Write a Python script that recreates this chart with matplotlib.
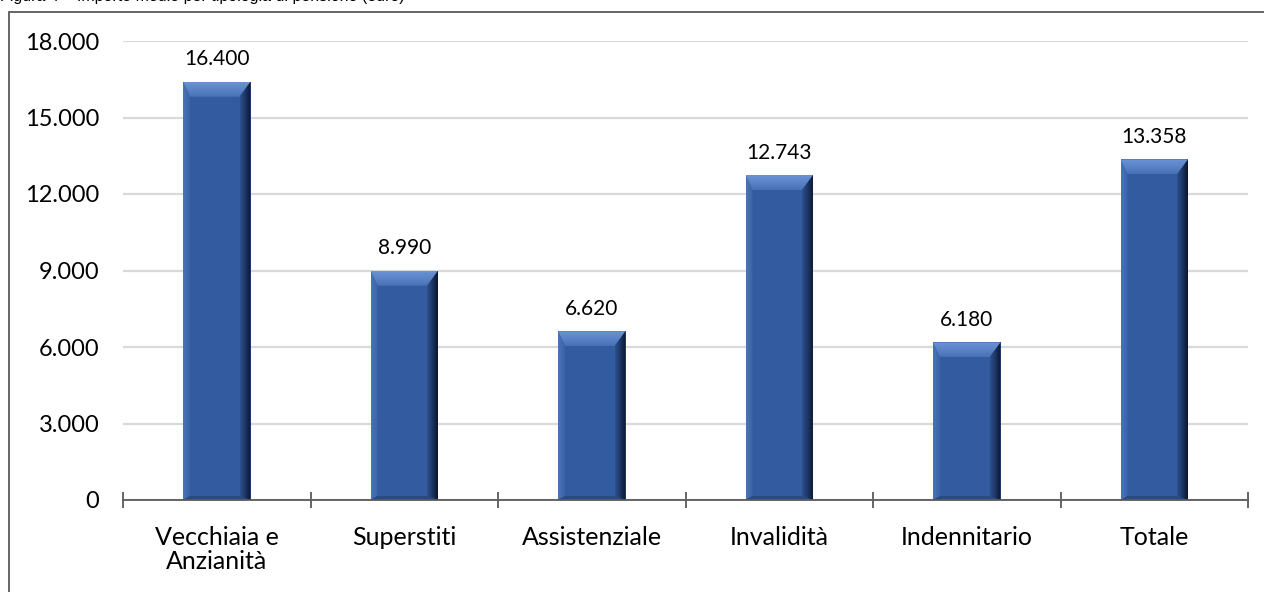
import numpy as np
import matplotlib
matplotlib.use('Agg')
import matplotlib.pyplot as plt
from matplotlib.patches import Polygon, Rectangle
from matplotlib.ticker import FixedLocator, FuncFormatter

# importo medio per tipologia di pensione (euro)
categorie = ['Vecchiaia e\nAnzianità', 'Superstiti', 'Assistenziale',
             'Invalidità', 'Indennitario', 'Totale']
importi = [16400, 8990, 6620, 12743, 6180, 13358]
y_ticks = [0, 3000, 6000, 9000, 12000, 15000, 18000]


def fmt_it(v, pos=None):
    # separatore delle migliaia all'italiana
    return f"{int(round(v)):,}".replace(',', '.')


FONT = 'Lato'

fig = plt.figure(figsize=(12.64, 5.92), dpi=100)
ax = fig.add_axes([123 / 1264, 1 - 500 / 592, 1125 / 1264, 459 / 592])

x = np.arange(len(categorie))
width = 0.36
face = '#335B9F'
bars = ax.bar(x, importi, width=width, color=face, zorder=3, linewidth=0)

ax.set_xlim(-0.5, len(categorie) - 0.5)
ax.set_ylim(0, 18000)

# bevel: sizes in pixels converted to data units
p0 = ax.transData.transform((0, 0))
p1 = ax.transData.transform((1, 1000))
ux = 1 / (p1[0] - p0[0])
uy = 1000 / (p1[1] - p0[1])
bx, by = 11 * ux, 15 * uy
bxl, byb = 7 * ux, 4 * uy

grad = np.linspace(0, 1, 64).reshape(1, -1)
grad_top = np.linspace(0, 1, 64).reshape(-1, 1)
cmap_dark = matplotlib.colors.LinearSegmentedColormap.from_list(
    'dark', ['#2D5190', '#1C3564', '#0B1630'])
cmap_top = matplotlib.colors.LinearSegmentedColormap.from_list(
    'top', ['#4770B5', '#5A83C8', '#6A92D4'])
cmap_left = matplotlib.colors.LinearSegmentedColormap.from_list(
    'left', ['#4A74BA', '#3A62A7'])

for b in bars:
    x0 = b.get_x()
    x1 = x0 + b.get_width()
    h = b.get_height()
    top = Polygon([(x0, h), (x1, h), (x1 - bx, h - by), (x0 + bxl, h - by)],
                  closed=True, facecolor='none', edgecolor='none', zorder=4)
    ax.add_patch(top)
    im = ax.imshow(grad_top, cmap=cmap_top, aspect='auto', origin='lower',
                   extent=(x0, x1, h - by, h), zorder=4, interpolation='bilinear')
    im.set_clip_path(top)
    left = Polygon([(x0, h), (x0 + bxl, h - by), (x0 + bxl, byb), (x0, 0)],
                   closed=True, facecolor='none', edgecolor='none', zorder=4)
    ax.add_patch(left)
    im = ax.imshow(grad, cmap=cmap_left, aspect='auto',
                   extent=(x0, x0 + bxl, 0, h), zorder=4, interpolation='bilinear')
    im.set_clip_path(left)
    bottom = Polygon([(x0, 0), (x0 + bxl, byb), (x1 - bx, byb), (x1, 0)],
                     closed=True, facecolor='#284A86', edgecolor='none', zorder=4)
    ax.add_patch(bottom)
    right = Polygon([(x1, h), (x1 - bx, h - by), (x1 - bx, byb), (x1, 0)],
                    closed=True, facecolor='none', edgecolor='none', zorder=4)
    ax.add_patch(right)
    im = ax.imshow(grad, cmap=cmap_dark, aspect='auto', extent=(x1 - bx, x1, 0, h),
                   zorder=4, interpolation='bilinear')
    im.set_clip_path(right)
    ax.annotate(fmt_it(h), (b.get_x() + b.get_width() / 2, h),
                xytext=(0, 9), textcoords='offset points', ha='center', va='bottom',
                fontsize=15, family=FONT, color='#000000', zorder=5)

ax.set_xlim(-0.5, len(categorie) - 0.5)
ax.set_ylim(0, 18000)

ax.set_yticks(y_ticks)
ax.yaxis.set_major_formatter(FuncFormatter(fmt_it))
ax.tick_params(axis='y', length=0, pad=17, labelsize=17)
ax.grid(axis='y', color='#D9D9D9', linewidth=1.6, zorder=0)
ax.set_axisbelow(True)

ax.set_xticks(x)
ax.set_xticklabels(categorie, fontsize=18, family=FONT, linespacing=1.05)
ax.tick_params(axis='x', which='major', length=0, pad=19)
ax.xaxis.set_minor_locator(FixedLocator(np.arange(-0.5, len(categorie), 1.0)))
ax.tick_params(axis='x', which='minor', direction='inout', length=12,
               width=1.3, color='#595959')

for lbl in ax.get_yticklabels():
    lbl.set_family(FONT)

for side in ['top', 'right', 'left']:
    ax.spines[side].set_visible(False)
ax.spines['bottom'].set_color('#595959')
ax.spines['bottom'].set_linewidth(1.3)
ax.spines['bottom'].set_zorder(6)

# riquadro esterno del grafico
fig.patches.append(Rectangle((9 / 1264, -0.05), 1.1, 1 - 12 / 592 + 0.05,
                             transform=fig.transFigure, fill=False,
                             edgecolor='#595959', linewidth=1.3))

fig.text(0, 1 - 1 / 592, 'Figura 4 – Importo medio per tipologia di pensione (euro)',
         family='Liberation Sans', fontsize=11.5, va='baseline', ha='left')

fig.savefig('out.png', dpi=100)
